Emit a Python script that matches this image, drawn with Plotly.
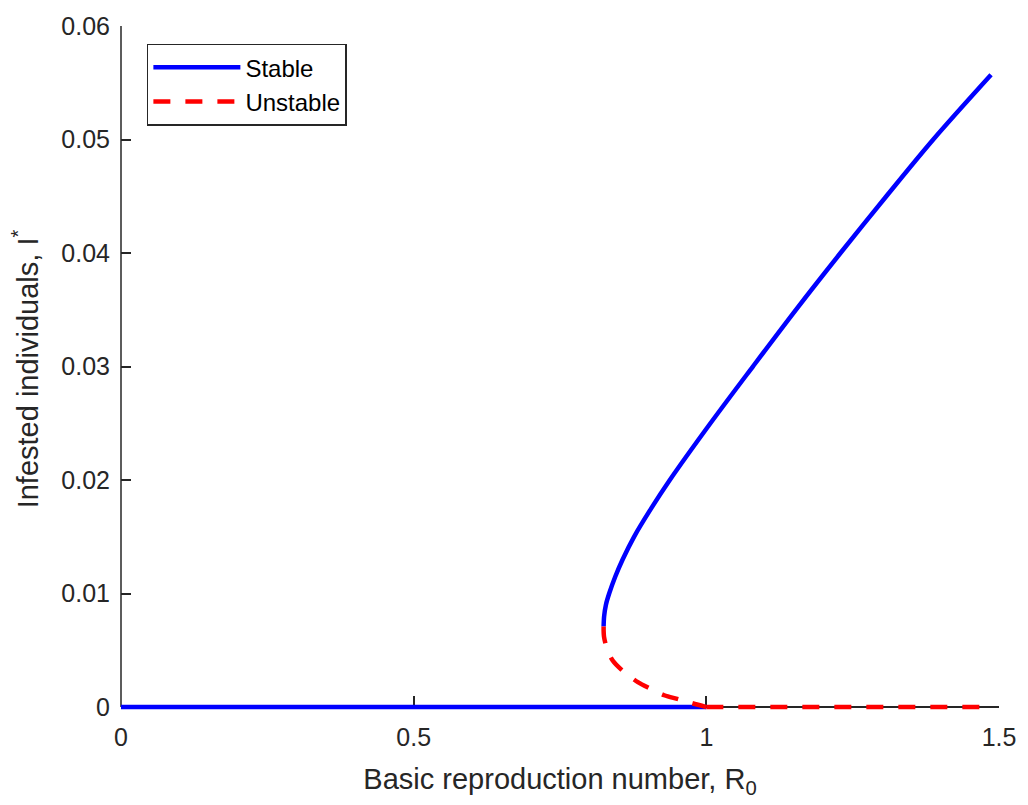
import plotly.graph_objects as go

# ---------------- data ----------------
# Upper (stable) endemic branch
stable_upper_I = [0.0071, 0.0080, 0.0090, 0.0100, 0.0115, 0.0130, 0.0150, 0.0175,
                  0.0200, 0.0250, 0.0300, 0.0350, 0.0400, 0.0450, 0.0500, 0.0557]
stable_upper_R = [0.8245, 0.8254, 0.8284, 0.8340, 0.8445, 0.8570, 0.8765, 0.9058,
                  0.9376, 1.0070, 1.0795, 1.1530, 1.2292, 1.3075, 1.3877, 1.4864]
# Disease-free (stable) branch for R0 < 1
stable_dfe_R = [0.0, 1.0]
stable_dfe_I = [0.0, 0.0]
# Unstable lower endemic branch
unstable_R = [0.8245, 0.8252, 0.8300, 0.8400, 0.8570, 0.8830, 0.9030, 0.9280,
              0.9520, 0.9750, 1.0000]
unstable_I = [0.0071, 0.0062, 0.0052, 0.0041, 0.0032, 0.0022, 0.00165, 0.00104,
              0.0007, 0.00035, 0.0]
# Unstable disease-free branch for R0 > 1
unstable_dfe_R = [1.0, 1.4864]
unstable_dfe_I = [0.0, 0.0]

x_ticks = [0, 0.5, 1, 1.5]
x_ticklabels = ["0", "0.5", "1", "1.5"]
y_ticks = [0, 0.01, 0.02, 0.03, 0.04, 0.05, 0.06]
y_ticklabels = ["0", "0.01", "0.02", "0.03", "0.04", "0.05", "0.06"]

# ---------------- layout geometry ----------------
W, H = 1028, 805
left, right, top, zero_px = 121, 1003, 17, 707
below = 5  # extra pixels under y=0 so the line at I=0 is not clipped
ymax = 0.06
ppu = (zero_px - top) / ymax
ymin = -below / ppu
plot_h = (zero_px + below) - top
bottom_margin = H - (zero_px + below)

FONT = "Liberation Sans, Arial, Helvetica, sans-serif"
AX = "#262626"
BLUE = "#0000ff"
RED = "#ff0000"
LW = 4.5
DASH = "17px,15px"

fig = go.Figure()

fig.add_trace(go.Scatter(
    x=stable_dfe_R, y=stable_dfe_I,
    mode="lines", name="Stable", legendgroup="s", showlegend=False,
    line=dict(color=BLUE, width=LW),
))
fig.add_trace(go.Scatter(
    x=stable_upper_R, y=stable_upper_I,
    mode="lines", name="Stable", legendgroup="s",
    line=dict(color=BLUE, width=LW, shape="spline", smoothing=0.9),
))
fig.add_trace(go.Scatter(
    x=unstable_R, y=unstable_I,
    mode="lines", name="Unstable", legendgroup="u",
    line=dict(color=RED, width=LW, dash=DASH, shape="spline", smoothing=0.9),
))
fig.add_trace(go.Scatter(
    x=unstable_dfe_R, y=unstable_dfe_I,
    mode="lines", name="Unstable", legendgroup="u", showlegend=False,
    line=dict(color=RED, width=LW, dash=DASH),
))

fig.update_layout(
    width=W, height=H,
    margin=dict(l=left, r=W - right, t=top, b=bottom_margin, pad=0),
    paper_bgcolor="white", plot_bgcolor="white",
    font=dict(family=FONT, color=AX, size=25),
    showlegend=True,
    legend=dict(
        x=(147 - left) / (right - left), y=((zero_px + below) - 35) / plot_h,
        xanchor="left", yanchor="top",
        bordercolor=AX, borderwidth=1.5, bgcolor="white",
        font=dict(family=FONT, size=24, color="black"),
        itemwidth=87, tracegroupgap=0,
    ),
    xaxis=dict(
        range=[0, 1.5], anchor="free", position=below / plot_h,
        showgrid=False, zeroline=False, layer="below traces",
        showline=True, linecolor=AX, linewidth=1.5,
        ticks="inside", ticklen=10, tickwidth=1.5, tickcolor=AX,
        tickvals=x_ticks, ticktext=x_ticklabels,
        tickfont=dict(family=FONT, size=25, color=AX),
        ticklabelstandoff=8,
        title=dict(text="Basic reproduction number, R<sub>0</sub>",
                   font=dict(family=FONT, size=29, color=AX), standoff=18),
    ),
    yaxis=dict(
        range=[ymin, ymax],
        showgrid=False, zeroline=False, showline=False, layer="below traces",
        ticks="inside", ticklen=10, tickwidth=1.5, tickcolor=AX,
        tickvals=y_ticks, ticktext=y_ticklabels,
        tickfont=dict(family=FONT, size=25, color=AX),
        ticklabelstandoff=10,
        title=dict(text="Infested individuals, I<sup>*</sup>",
                   font=dict(family=FONT, size=29, color=AX), standoff=14),
    ),
    shapes=[dict(type="line", xref="paper", yref="paper",
                 x0=0, x1=0, y0=below / plot_h, y1=1,
                 line=dict(color=AX, width=1.5), layer="below")],
)

fig.write_html("out.html")
